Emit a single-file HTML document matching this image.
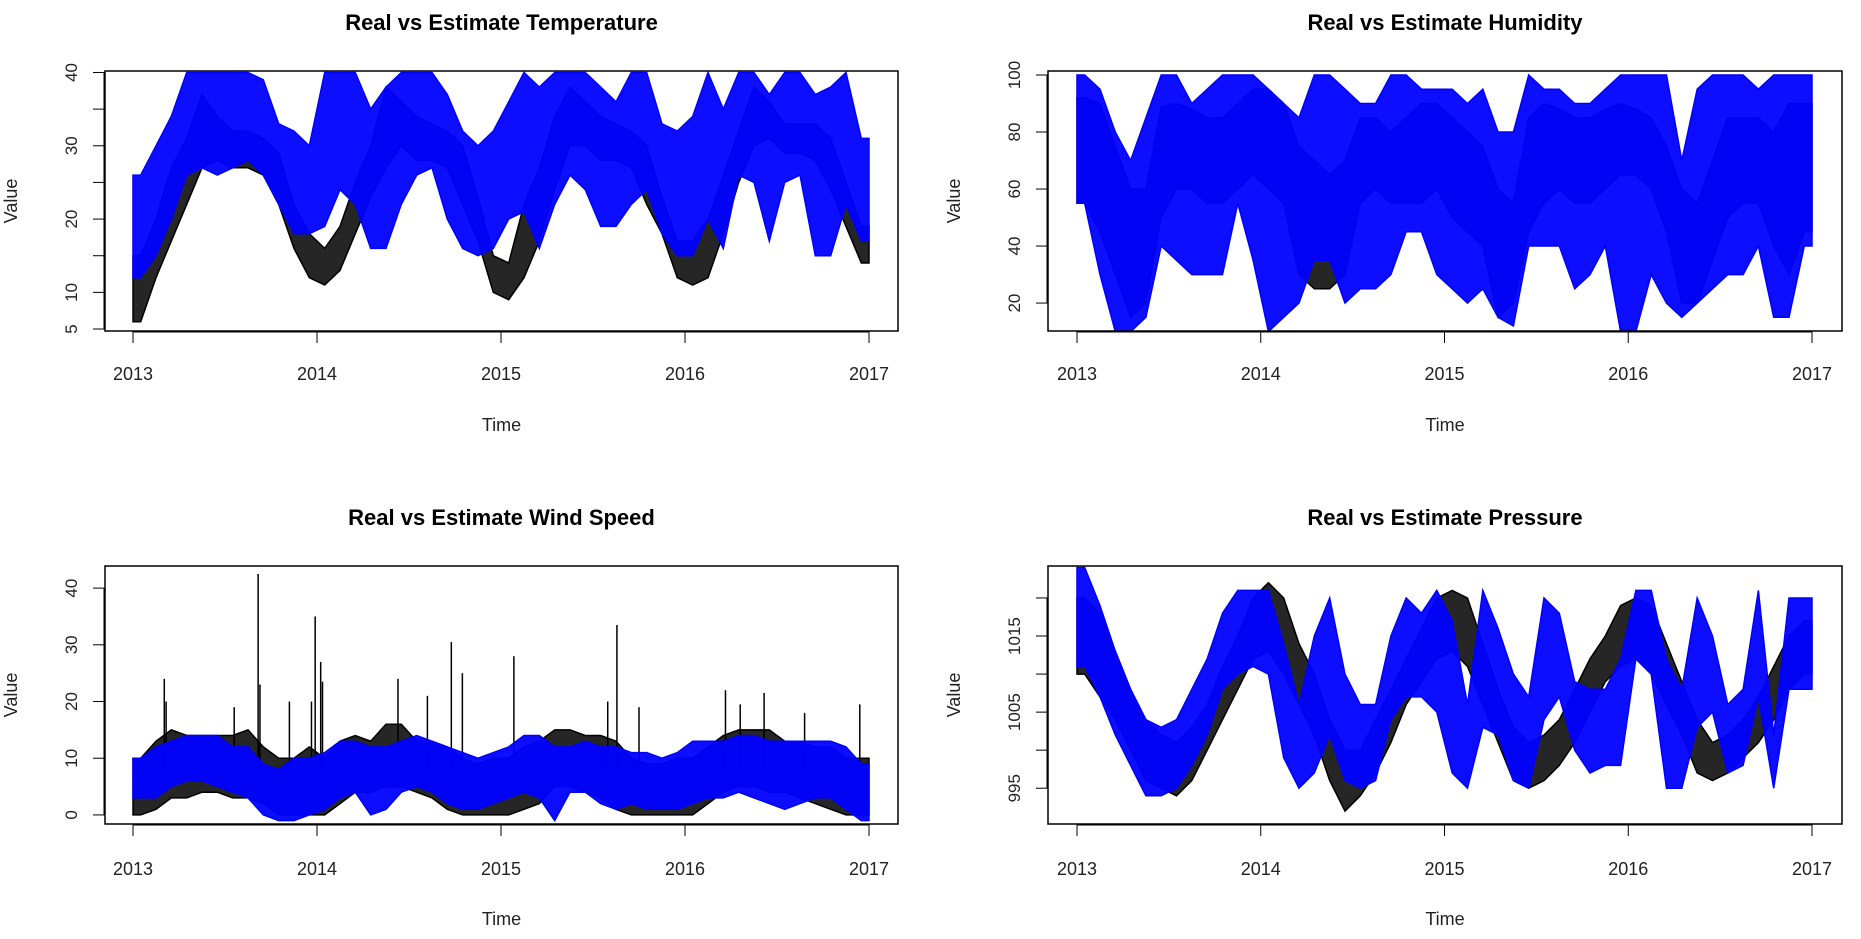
<!DOCTYPE html>
<html><head><meta charset="utf-8"><style>
html,body{margin:0;padding:0;background:#fff;}
svg{display:block;font-family:"Liberation Sans",Arial,sans-serif;}
</style></head><body>
<svg id="chart" width="1861" height="939" viewBox="0 0 1861 939" xmlns="http://www.w3.org/2000/svg"></svg>
<script>
const yearTicks=[2013,2014,2015,2016,2017];
// Temperature monthly lo/hi (2013-01 .. 2016-12)
const tempRealLo=[6,12,17,22,27,28,27,27,26,22,16,12, 11,13,18,23,27,30,28,28,27,22,17,10, 9,12,17,24,30,30,28,28,27,22,18,12, 11,12,18,25,30,31,29,29,28,24,19,14];
const tempRealHi=[15,20,27,31,37,34,32,32,31,29,22,18, 16,19,25,30,38,36,34,33,32,30,23,15, 14,22,27,34,38,36,34,33,32,30,23,17, 17,20,26,32,38,36,33,33,33,31,25,19];
const tempEstLo=[12,15,20,26,27,26,27,28,26,22,18,18, 19,24,22,16,16,22,26,27,20,16,15,16, 20,21,16,22,26,24,19,19,22,24,18,15, 15,20,16,26,25,17,25,26,15,15,22,17];
const tempEstHi=[26,30,34,40,40,40,40,40,39,33,32,30, 40,40,40,35,38,40,40,40,37,32,30,32, 36,40,38,40,40,40,38,36,40,40,33,32, 34,40,35,40,40,37,40,40,37,38,40,31];
// Humidity
const humRealLo=[55,45,30,15,20,50,60,60,55,55,60,65, 60,55,30,25,25,30,55,60,55,55,55,60, 50,45,40,15,20,45,55,60,55,55,60,65, 65,60,45,20,20,35,50,55,55,40,30,45];
const humRealHi=[92,90,75,60,60,89,90,88,85,85,90,95, 95,90,75,70,65,70,85,85,80,85,90,90, 85,80,75,60,55,85,90,88,85,85,88,90, 88,85,75,60,55,70,85,85,85,80,90,90];
const humEstLo=[55,30,10,10,15,40,35,30,30,30,55,35, 10,15,20,35,35,20,25,25,30,45,45,30, 25,20,25,15,12,40,40,40,25,30,40,10, 10,30,20,15,20,25,30,30,40,15,15,40];
const humEstHi=[100,95,80,70,85,100,100,90,95,100,100,100, 95,90,85,100,100,95,90,90,100,100,95,95, 95,90,95,80,80,100,95,95,90,90,95,100, 100,100,100,70,95,100,100,100,95,100,100,100];
// Wind speed
const windRealLo=[0,1,3,3,4,4,3,3,2,0,0,0, 0,2,4,4,5,5,4,3,1,0,0,0, 0,1,2,5,5,4,3,1,0,0,0,0, 0,2,4,5,5,4,4,3,2,1,0,0];
const windRealHi=[10,13,15,14,14,14,14,15,12,10,10,12, 10,13,14,13,16,16,13,13,12,10,9,10, 10,12,13,15,15,14,14,13,10,9,9,10, 10,12,14,15,15,15,13,13,12,12,10,10];
const windEstLo=[3,3,5,6,6,5,4,3,0,-1,-1,0, 1,3,4,0,1,4,5,4,2,1,1,2, 3,4,3,-1,4,4,2,1,2,1,1,1, 2,3,3,4,3,2,1,2,3,3,1,-1];
const windEstHi=[10,12,13,14,14,14,12,12,9,8,10,10, 11,13,13,12,12,13,14,13,12,11,10,11, 12,14,14,12,12,13,12,12,11,11,10,11, 13,13,13,14,14,13,13,13,13,13,12,9];
const windSpikeT=[2013.17,2013.18,2013.55,2013.68,2013.69,2013.85,2013.97,2013.99,2014.02,2014.03,2014.44,2014.60,2014.73,2014.79,2015.07,2015.58,2015.63,2015.75,2016.22,2016.30,2016.43,2016.65,2016.95];
const windSpikeV=[24,20,19,42.5,23,20,20,35,27,23.5,24,21,30.5,25,28,20,33.5,19,22,19.5,21.5,18,19.5];
// Pressure
const presRealLo=[1010,1007,1004,1000,996,995,994,996,1000,1004,1008,1012, 1013,1010,1006,1002,996,992,994,997,1001,1006,1009,1012, 1013,1011,1006,1001,996,995,996,998,1001,1005,1009,1011, 1012,1010,1006,1002,997,996,997,999,1001,1004,1008,1010];
const presRealHi=[1020,1018,1013,1008,1004,1002,1001,1003,1006,1011,1015,1020, 1022,1020,1014,1010,1004,1000,1000,1004,1008,1012,1016,1020, 1021,1020,1014,1008,1003,1001,1002,1004,1008,1012,1015,1019, 1020,1019,1014,1009,1004,1001,1002,1004,1007,1011,1015,1017];
const presEstLo=[1011,1007,1002,998,994,994,995,998,1002,1008,1010,1011, 1010,999,995,997,1002,996,995,996,1004,1007,1007,1005, 997,995,1003,1002,996,995,1004,1007,1000,997,998,998, 1012,1010,995,995,1003,1005,997,998,1007,995,1008,1008];
const presEstHi=[1024,1019,1013,1008,1004,1003,1004,1008,1012,1018,1021,1021, 1021,1014,1006,1015,1020,1010,1006,1006,1015,1020,1018,1021, 1017,1006,1021,1016,1010,1007,1020,1018,1009,1008,1008,1012, 1021,1021,1012,1008,1020,1015,1006,1008,1021,1002,1020,1020];

const panels=[
 {key:'temperature',title:'Real vs Estimate Temperature',x0:105,x1:898,y0:71,y1:331,xl:133,xr:869,ymin:4.73,ymax:40.2,
  ticks:[5,10,20,30,40],labels:['5','10','20','30','40'],minor:[15,25,35],
  rLo:tempRealLo,rHi:tempRealHi,eLo:tempEstLo,eHi:tempEstHi,titleY:22,tickLblY:373,timeY:424},
 {key:'humidity',title:'Real vs Estimate Humidity',x0:1048,x1:1842,y0:71,y1:331,xl:1077,xr:1812,ymin:10.2,ymax:101.4,
  ticks:[20,40,60,80,100],labels:['20','40','60','80','100'],minor:[],
  rLo:humRealLo,rHi:humRealHi,eLo:humEstLo,eHi:humEstHi,titleY:22,tickLblY:373,timeY:424},
 {key:'wind-speed',title:'Real vs Estimate Wind Speed',x0:105,x1:898,y0:566,y1:824,xl:133,xr:869,ymin:-1.6,ymax:43.9,
  ticks:[0,10,20,30,40],labels:['0','10','20','30','40'],minor:[],
  rLo:windRealLo,rHi:windRealHi,eLo:windEstLo,eHi:windEstHi,titleY:517,tickLblY:868,timeY:918},
 {key:'pressure',title:'Real vs Estimate Pressure',x0:1048,x1:1842,y0:566,y1:824,xl:1077,xr:1812,ymin:990.3,ymax:1024.2,
  ticks:[995,1005,1015],labels:['995','1005','1015'],minor:[1000,1010,1020],
  rLo:presRealLo,rHi:presRealHi,eLo:presEstLo,eHi:presEstHi,titleY:517,tickLblY:868,timeY:918}
];
const NS='http://www.w3.org/2000/svg';
const svg=document.getElementById('chart');
function mk(tag,attrs,parent){const e=document.createElementNS(NS,tag);for(const k in attrs)e.setAttribute(k,attrs[k]);(parent||svg).appendChild(e);return e;}
panels.forEach((p,pi)=>{
  const g=mk('g',{});
  
  
  const xs=t=>p.xl+(t-2013)/4*(p.xr-p.xl);
  const ys=v=>p.y1-(v-p.ymin)/(p.ymax-p.ymin)*(p.y1-p.y0);
  const cid='clip'+pi;
  const cp=mk('clipPath',{id:cid},g);mk('rect',{x:p.x0,y:p.y0,width:p.x1-p.x0,height:p.y1-p.y0},cp);
  const t=mk('text',{x:(p.x0+p.x1)/2,y:p.titleY+8,'text-anchor':'middle','font-size':'22','font-weight':'bold',fill:'#000'},g);
  t.textContent=p.title;
  
  
  function band(lo,hi,color,name,op){
    const tt=lo.map((_,i)=>2013+(i+0.5)/12);
    let pts=[[xs(2013),ys(hi[0])]];
    hi.forEach((v,i)=>pts.push([xs(tt[i]),ys(v)]));
    pts.push([xs(2017),ys(hi[hi.length-1])]);
    pts.push([xs(2017),ys(lo[lo.length-1])]);
    for(let i=lo.length-1;i>=0;i--)pts.push([xs(tt[i]),ys(lo[i])]);
    pts.push([xs(2013),ys(lo[0])]);
    const pl=mk('polygon',{points:pts.map(q=>q[0].toFixed(1)+','+q[1].toFixed(1)).join(' '),fill:color,'fill-opacity':op,stroke:color,'stroke-width':1.5,'clip-path':'url(#'+cid+')'},g);
    
    
  }
  band(p.rLo,p.rHi,'#000',p.key+'-real-series',0.85);
  if(p.key==='wind-speed'){
    windSpikeT.forEach((tv,i)=>{
      const l=mk('line',{x1:xs(tv),x2:xs(tv),y1:ys(8),y2:ys(windSpikeV[i]),stroke:'#000','stroke-width':1.5,'clip-path':'url(#'+cid+')'},g);
      
      
    });
  }
  band(p.eLo,p.eHi,'#0000ff',p.key+'-estimate-series',0.95);
  const box=mk('rect',{x:p.x0,y:p.y0,width:p.x1-p.x0,height:p.y1-p.y0,fill:'none',stroke:'#000','stroke-width':1.5},g);
  
  
  // x axis
  const ax=mk('g',{},g);
  
  
  mk('line',{x1:xs(2013),x2:xs(2017),y1:p.y1+1,y2:p.y1+1,stroke:'#000','stroke-width':1},ax);
  yearTicks.forEach(yr=>{
    mk('line',{x1:xs(yr),x2:xs(yr),y1:p.y1,y2:p.y1+12,stroke:'#000','stroke-width':1},ax);
    const tl=mk('text',{x:xs(yr),y:p.tickLblY+7,'text-anchor':'middle','font-size':'18',fill:'#222'},ax);
    tl.textContent=String(yr);
  });
  const xt=mk('text',{x:(p.x0+p.x1)/2,y:p.timeY+7,'text-anchor':'middle','font-size':'18',fill:'#222'},g);
  xt.textContent='Time';
  
  
  // y axis
  const ay=mk('g',{},g);
  
  
  const allT=p.ticks.concat(p.minor).filter(v=>v>=p.ymin&&v<=p.ymax);
  const tmin=Math.min(...allT),tmax=Math.max(...allT);
  mk('line',{x1:p.x0-1,x2:p.x0-1,y1:ys(tmin),y2:ys(tmax),stroke:'#000','stroke-width':1},ay);
  allT.forEach(v=>mk('line',{x1:p.x0-12,x2:p.x0,y1:ys(v),y2:ys(v),stroke:'#000','stroke-width':1},ay));
  p.ticks.forEach((v,i)=>{
    const lx=p.x0-28,ly=ys(v);
    const tl=mk('text',{x:lx,y:ly,'text-anchor':'middle','font-size':'17',fill:'#222',transform:'rotate(-90 '+lx+' '+ly+')'},ay);
    tl.textContent=p.labels[i];
  });
  const yx=p.x0-88,yy=(p.y0+p.y1)/2;
  const yt=mk('text',{x:yx,y:yy,'text-anchor':'middle','font-size':'18',fill:'#222',transform:'rotate(-90 '+yx+' '+yy+')'},g);
  yt.textContent='Value';
  
  
});
</script>
</body></html>
